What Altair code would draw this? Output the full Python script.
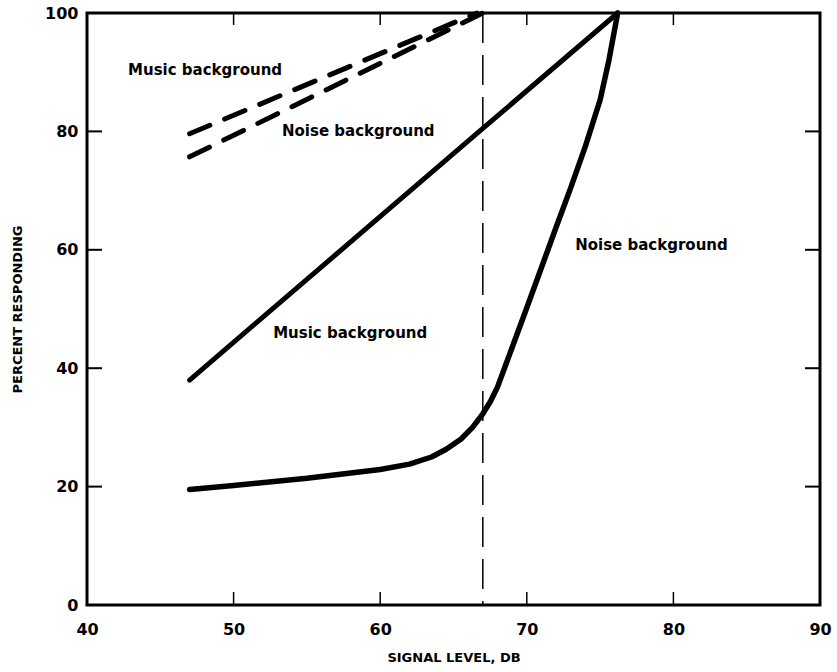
import altair as alt
import pandas as pd

# ---- data ----
music_dash_x = [47, 66.6]
music_dash_y = [79.6, 100]
noise_dash_x = [47, 67]
noise_dash_y = [75.7, 100]
music_solid_x = [47, 67, 76.2]
music_solid_y = [38.0, 80.5, 100]
noise_solid_x = [47, 50, 55, 60, 62, 63.5, 64.5, 65.5, 66.3, 67, 67.5, 68, 69, 70, 71, 72, 73, 74, 75, 75.6, 76.2]
noise_solid_y = [19.5, 20.2, 21.4, 22.9, 23.8, 25.0, 26.3, 28.0, 30.0, 32.3, 34.3, 36.8, 43.5, 50.2, 57.0, 63.8, 70.5, 77.5, 85.3, 92.0, 100]
ref_x = [67]
x_ticks = [50, 60, 70, 80]
y_ticks = [20, 40, 60, 80]
x_labels = [40, 50, 60, 70, 80, 90]
y_labels = [0, 20, 40, 60, 80, 100]
label_text = ["Music background", "Noise background", "Music background", "Noise background"]
label_x = [42.8, 53.3, 52.7, 73.3]
label_y = [90.4, 80.0, 46.0, 60.8]

W, H = 733, 592
FONT = "DejaVu Sans"

xs = alt.Scale(domain=[40, 90], nice=False, zero=False)
ys = alt.Scale(domain=[0, 100], nice=False, zero=False)

def df_line(xv, yv):
    return pd.DataFrame({"x": xv, "y": yv})

xenc = alt.X("x:Q", scale=xs, axis=alt.Axis(values=x_labels, tickSize=0, domain=False, grid=False,
             labelPadding=16, labelFontSize=16, labelFontWeight="bold", labelFont=FONT, labelColor="black",
             title="SIGNAL LEVEL, DB", titleFontSize=13, titleFontWeight="bold", titleFont=FONT,
             titlePadding=14, titleColor="black", labelFlush=False))
yenc = alt.Y("y:Q", scale=ys, axis=alt.Axis(values=y_labels, tickSize=0, domain=False, grid=False,
             labelPadding=9, labelFontSize=16, labelFontWeight="bold", labelFont=FONT, labelColor="black",
             title="PERCENT RESPONDING", titleFontSize=13, titleFontWeight="bold", titleFont=FONT,
             titlePadding=20, titleColor="black", labelFlush=False))

base_axes = alt.Chart(df_line(music_solid_x, music_solid_y)).mark_line(
    color="black", strokeWidth=5, strokeCap="round").encode(x=xenc, y=yenc)

noise_solid = alt.Chart(df_line(noise_solid_x, noise_solid_y)).mark_line(
    color="black", strokeWidth=5.5, strokeCap="round", strokeJoin="round").encode(
    x=alt.X("x:Q", scale=xs), y=alt.Y("y:Q", scale=ys))

music_dash = alt.Chart(df_line(music_dash_x, music_dash_y)).mark_line(
    color="black", strokeWidth=5, strokeCap="round", strokeDash=[22, 16]).encode(
    x=alt.X("x:Q", scale=xs), y=alt.Y("y:Q", scale=ys))

noise_dash = alt.Chart(df_line(noise_dash_x, noise_dash_y)).mark_line(
    color="black", strokeWidth=5, strokeCap="round", strokeDash=[22, 16]).encode(
    x=alt.X("x:Q", scale=xs), y=alt.Y("y:Q", scale=ys))

vref = alt.Chart(pd.DataFrame({"x": ref_x})).mark_rule(
    color="black", strokeWidth=1.5, strokeDash=[30, 12]).encode(
    x=alt.X("x:Q", scale=xs), y=alt.value(0), y2=alt.value(H))

tx = pd.DataFrame({"x": x_ticks})
ty = pd.DataFrame({"y": y_ticks})
bottom_ticks = alt.Chart(tx).mark_rule(color="black", strokeWidth=1.5).encode(
    x=alt.X("x:Q", scale=xs), y=alt.value(H), y2=alt.value(H - 13))
top_ticks = alt.Chart(tx).mark_rule(color="black", strokeWidth=1.5).encode(
    x=alt.X("x:Q", scale=xs), y=alt.value(0), y2=alt.value(12))
left_ticks = alt.Chart(ty).mark_rule(color="black", strokeWidth=2).encode(
    y=alt.Y("y:Q", scale=ys), x=alt.value(0), x2=alt.value(15))
right_ticks = alt.Chart(ty).mark_rule(color="black", strokeWidth=2).encode(
    y=alt.Y("y:Q", scale=ys), x=alt.value(W), x2=alt.value(W - 15))

labels = alt.Chart(pd.DataFrame({"x": label_x, "y": label_y, "t": label_text})).mark_text(
    align="left", baseline="middle", font=FONT, fontSize=15, fontWeight="bold", color="black").encode(
    x=alt.X("x:Q", scale=xs), y=alt.Y("y:Q", scale=ys), text="t:N")

chart = alt.layer(
    base_axes, noise_solid, music_dash, noise_dash, vref,
    bottom_ticks, top_ticks, left_ticks, right_ticks, labels
).properties(
    width=W, height=H,
    autosize=alt.AutoSizeParams(type="none"),
    padding={"left": 87, "top": 13, "right": 17, "bottom": 67},
    background="white",
).configure_view(stroke="black", strokeWidth=3)

chart.save("out.html", embed_options={"renderer": "svg", "actions": False})
